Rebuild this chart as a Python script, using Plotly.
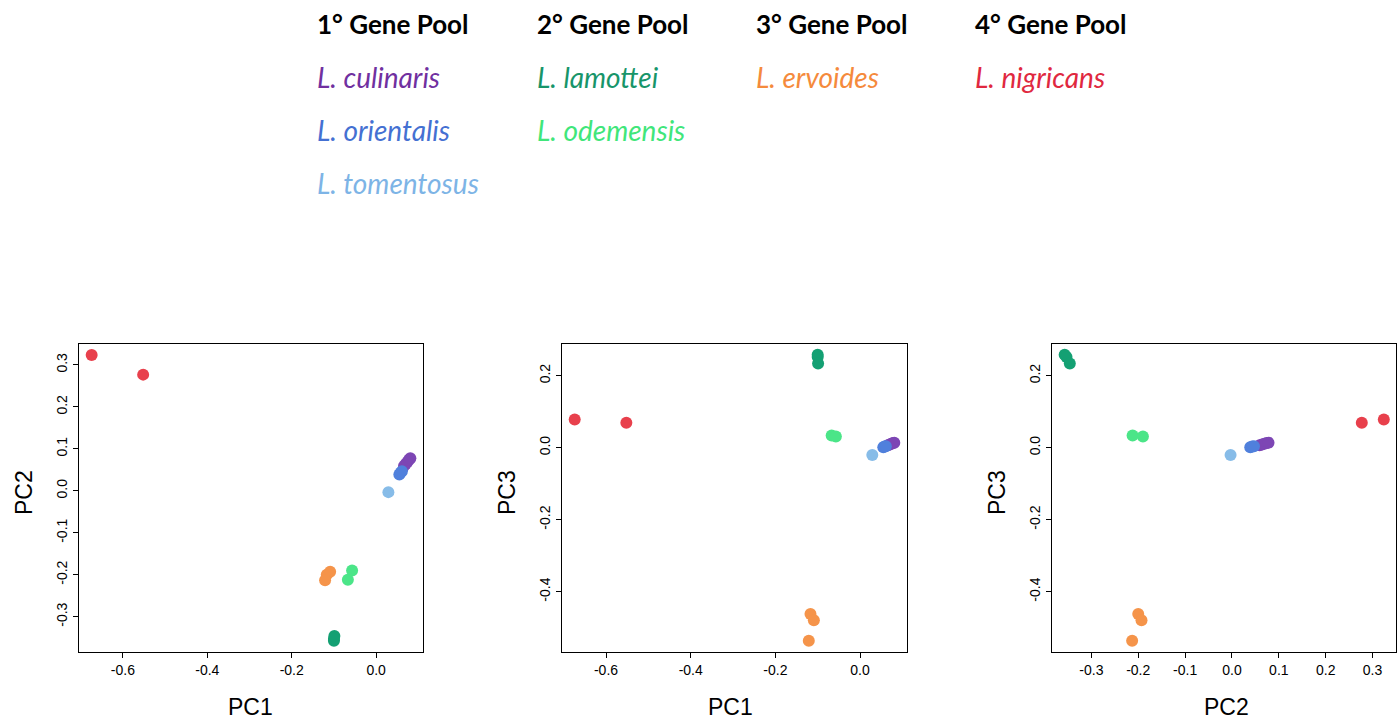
import plotly.graph_objects as go

# ---- data ----
species = ["L. culinaris", "L. orientalis", "L. tomentosus", "L. lamottei",
           "L. odemensis", "L. ervoides", "L. nigricans"]
colors = ["#7D46B4", "#5080DC", "#87BCE8", "#14A073", "#4BE588", "#F5944A", "#E8404C"]
text_colors = ["#7030A0", "#4470D2", "#7DB4E6", "#17956A", "#40E67A", "#F58A3C", "#E0283F"]

pc1 = {
    "L. culinaris": [0.066, 0.070, 0.074, 0.078, 0.081],
    "L. orientalis": [0.055, 0.058, 0.061],
    "L. tomentosus": [0.029],
    "L. lamottei": [-0.100, -0.100, -0.099],
    "L. odemensis": [-0.067, -0.057],
    "L. ervoides": [-0.117, -0.109, -0.121],
    "L. nigricans": [-0.674, -0.552],
}
pc2 = {
    "L. culinaris": [0.059, 0.064, 0.069, 0.074, 0.078],
    "L. orientalis": [0.039, 0.043, 0.047],
    "L. tomentosus": [-0.003],
    "L. lamottei": [-0.357, -0.353, -0.346],
    "L. odemensis": [-0.212, -0.190],
    "L. ervoides": [-0.200, -0.193, -0.213],
    "L. nigricans": [0.324, 0.277],
}
pc3 = {
    "L. culinaris": [0.007, 0.009, 0.011, 0.013, 0.014],
    "L. orientalis": [0.001, 0.003, 0.004],
    "L. tomentosus": [-0.020],
    "L. lamottei": [0.258, 0.252, 0.234],
    "L. odemensis": [0.034, 0.031],
    "L. ervoides": [-0.462, -0.479, -0.536],
    "L. nigricans": [0.078, 0.069],
}

pools = ["1° Gene Pool", "2° Gene Pool", "3° Gene Pool", "4° Gene Pool"]
pool_members = [["L. culinaris", "L. orientalis", "L. tomentosus"],
                ["L. lamottei", "L. odemensis"],
                ["L. ervoides"],
                ["L. nigricans"]]

x1_ticks = [-0.6, -0.4, -0.2, 0.0]
y1_ticks = [-0.3, -0.2, -0.1, 0.0, 0.1, 0.2, 0.3]
y2_ticks = [-0.4, -0.2, 0.0, 0.2]
x3_ticks = [-0.3, -0.2, -0.1, 0.0, 0.1, 0.2, 0.3]

W, H = 1400, 719
fig = go.Figure()

panels = [  # (x data, y data, xaxis id, yaxis id)
    (pc1, pc2, "x", "y"),
    (pc1, pc3, "x2", "y2"),
    (pc2, pc3, "x3", "y3"),
]
for xd, yd, xa, ya in panels:
    for sp, col in zip(species, colors):
        fig.add_trace(go.Scatter(
            x=xd[sp], y=yd[sp], mode="markers", xaxis=xa, yaxis=ya,
            marker=dict(color=col, size=12, line=dict(width=0)),
            name=sp, showlegend=False, hoverinfo="skip"))

def fmt(v):
    return f"{v:.1f}"

tickfont = dict(family="Liberation Sans, Arial", size=14, color="black")
common = dict(showline=True, linecolor="black", linewidth=1, mirror=True,
              ticks="outside", ticklen=5, tickcolor="black", tickwidth=1,
              showgrid=False, zeroline=False, tickfont=tickfont)

boxes = [(79, 423), (562, 907), (1052, 1396)]
ytop, ybot = 344, 652
ydom = [(H - ybot) / H, (H - ytop) / H]

layout = dict(
    width=W, height=H, margin=dict(l=0, r=0, t=0, b=0),
    paper_bgcolor="white", plot_bgcolor="white", showlegend=False,
)
pc1_rng = [-0.704, 0.111]
pc2_rng = [-0.384, 0.350]
pc3_rng = [-0.5675, 0.288]
xranges = [pc1_rng, pc1_rng, pc2_rng]
yranges = [pc2_rng, pc3_rng, pc3_rng]
xticks = [x1_ticks, x1_ticks, x3_ticks]
yticks = [y1_ticks, y2_ticks, y2_ticks]
for i in range(3):
    sfx = "" if i == 0 else str(i + 1)
    l, r = boxes[i]
    layout["xaxis" + sfx] = dict(common, domain=[l / W, r / W], range=xranges[i],
                                 tickvals=xticks[i], ticktext=[fmt(v) for v in xticks[i]],
                                 anchor="y" + sfx)
    layout["yaxis" + sfx] = dict(common, domain=ydom, range=yranges[i],
                                 tickvals=yticks[i], ticktext=[fmt(v) for v in yticks[i]],
                                 tickangle=-90, anchor="x" + sfx)
fig.update_layout(**layout)

ann = []
titlefont = dict(family="Liberation Sans, Arial", size=23, color="black")
xt = [("PC1", 250), ("PC1", 730), ("PC2", 1226)]
yt = [("PC2", 24), ("PC3", 507), ("PC3", 997)]
for (t, x) in xt:
    ann.append(dict(text=t, x=x / W, y=1 - 707 / H, xref="paper", yref="paper",
                    showarrow=False, font=titlefont, xanchor="center", yanchor="middle"))
for (t, x) in yt:
    ann.append(dict(text=t, x=x / W, y=1 - 493 / H, xref="paper", yref="paper",
                    showarrow=False, font=titlefont, textangle=-90,
                    xanchor="center", yanchor="middle"))

col_x = [315, 535, 754, 973]
row_y = [24, 77, 130, 183]
hfont = "Lato, Open Sans, sans-serif"
cmap = dict(zip(species, text_colors))
for cx, pool, members in zip(col_x, pools, pool_members):
    ann.append(dict(text="<b>" + pool + "</b>", x=cx / W, y=1 - row_y[0] / H,
                    xref="paper", yref="paper", showarrow=False,
                    xanchor="left", yanchor="middle",
                    font=dict(family=hfont, size=26, color="black")))
    for k, sp in enumerate(members):
        ann.append(dict(text="<i>" + sp + "</i>", x=cx / W, y=1 - row_y[k + 1] / H,
                        xref="paper", yref="paper", showarrow=False,
                        xanchor="left", yanchor="middle",
                        font=dict(family=hfont, size=28, color=cmap[sp])))
fig.update_layout(annotations=ann)

fig.write_html("out.html", config={"displayModeBar": False},
               post_script="document.body.style.margin='0';document.body.style.overflow='hidden';")
